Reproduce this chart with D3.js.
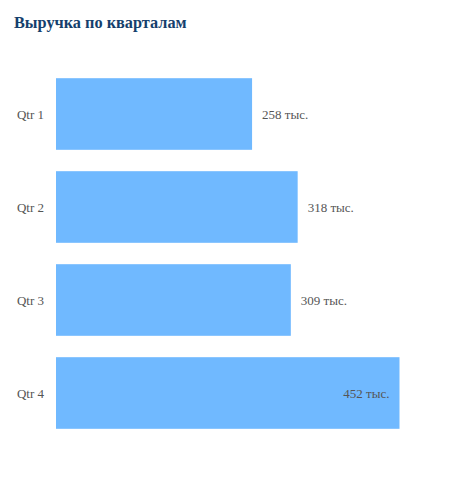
<!DOCTYPE html>
<html><head><meta charset="utf-8">
<script src="https://cdn.jsdelivr.net/npm/d3@7"></script>
<style>body{margin:0;background:#fff}</style>
</head><body>
<svg id="c" width="466" height="480"></svg>
<script>
const title = "Выручка по кварталам";
const categories = ["Qtr 1", "Qtr 2", "Qtr 3", "Qtr 4"];
const values = [258, 318, 309, 452];
const unit = " тыс.";

const svg = d3.select("#c");
const font = "'Liberation Serif', 'Times New Roman', serif";

svg.append("text").attr("x", 14).attr("y", 28)
  .attr("font-family", font).attr("font-size", 16.3).attr("font-weight", "bold")
  .attr("fill", "#153f6d").text(title);

const x = d3.scaleLinear().domain([0, d3.max(values)]).range([56, 399.5]);
const y = d3.scaleBand().domain(categories).range([67.5, 439.5])
  .paddingInner(0.23).paddingOuter(0.115);

const g = svg.append("g");
g.selectAll("rect").data(values).join("rect")
  .attr("x", x(0)).attr("y", (d, i) => y(categories[i]))
  .attr("width", d => x(d) - x(0)).attr("height", y.bandwidth())
  .attr("fill", "#70b9ff");

g.selectAll("text.cat").data(categories).join("text").attr("class", "cat")
  .attr("x", 44).attr("y", d => y(d) + y.bandwidth() / 2)
  .attr("dy", "0.35em").attr("text-anchor", "end")
  .attr("font-family", font).attr("font-size", 13).attr("fill", "#555")
  .text(d => d);

const maxV = d3.max(values);
g.selectAll("text.val").data(values).join("text").attr("class", "val")
  .attr("x", d => d === maxV ? x(d) - 10 : x(d) + 10)
  .attr("y", (d, i) => y(categories[i]) + y.bandwidth() / 2)
  .attr("dy", "0.35em")
  .attr("text-anchor", d => d === maxV ? "end" : "start")
  .attr("font-family", font).attr("font-size", 13).attr("fill", "#555")
  .text(d => d + unit);
</script>
</body></html>
